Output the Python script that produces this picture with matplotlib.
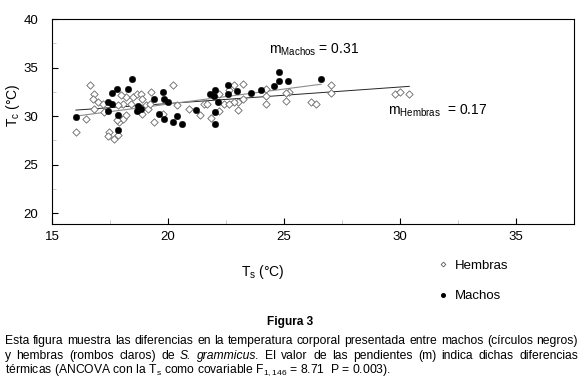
import matplotlib
matplotlib.use('Agg')
import matplotlib.pyplot as plt
from matplotlib.lines import Line2D
import numpy as np

# Arial-like text everywhere, also inside the mathtext bits.
plt.rcParams['font.family'] = ['Liberation Sans', 'DejaVu Sans']
plt.rcParams['mathtext.fontset'] = 'custom'
plt.rcParams['mathtext.rm'] = 'Liberation Sans'
plt.rcParams['mathtext.it'] = 'Liberation Sans:italic'
plt.rcParams['mathtext.bf'] = 'Liberation Sans:bold'

# Hembras (open diamonds): substrate temperature Ts and body temperature Tc.
ts_hembras = [16.65, 16.82, 16.75, 16.97, 17.2, 16.82, 16.47, 16.03, 17.25, 17.47,
              17.4, 17.66, 17.86, 17.9, 18.05, 18.19, 18.05, 17.83, 18.19, 17.97,
              18.4, 18.47, 18.66, 18.84, 18.9, 19.05, 19.15, 18.9, 19.27, 19.24,
              19.4, 19.8, 20.2, 20.4, 27.03, 27.03, 26.16, 26.38, 24.22, 25.09,
              25.23, 25.09, 24.22, 23.22, 22.86, 22.64, 23.0, 23.0, 23.22, 22.86,
              22.2, 22.2, 21.85, 21.4, 20.9, 21.56, 21.7, 22.4, 22.64, 24.22,
              29.78, 30.0, 30.4, 17.8]
tc_hembras = [33.2, 32.3, 31.8, 31.45, 31.3, 30.75, 29.7, 28.4, 30.4, 28.35,
              28.0, 27.7, 28.1, 29.4, 29.7, 30.07, 31.3, 31.1, 32.0, 32.2,
              31.3, 32.0, 32.3, 32.3, 31.8, 31.1, 30.7, 30.2, 32.5, 31.3,
              29.45, 30.2, 33.2, 31.1, 33.2, 32.4, 31.5, 31.2, 31.2, 31.6,
              32.5, 32.4, 32.8, 33.3, 33.2, 32.65, 31.5, 30.6, 31.8, 31.5,
              32.3, 30.5, 29.8, 30.1, 30.75, 31.3, 31.3, 31.3, 31.3, 32.1,
              32.3, 32.45, 32.3, 29.6]

# Machos (filled circles).
ts_machos = [16.03, 18.43, 17.6, 17.8, 18.26, 17.4, 17.6, 17.4, 17.83, 17.86,
             18.7, 18.84, 18.66, 19.38, 19.77, 19.84, 20.0, 19.6, 19.84, 20.2,
             20.4, 20.6, 21.2, 21.8, 21.99, 22.04, 22.04, 22.04, 22.14, 22.57,
             22.57, 22.96, 23.58, 24.0, 24.58, 24.8, 24.8, 25.16, 26.6]
tc_machos = [29.9, 33.8, 32.4, 32.75, 32.75, 31.5, 31.2, 30.5, 30.1, 28.6,
             31.0, 30.75, 30.5, 31.8, 32.5, 31.8, 31.5, 30.2, 29.7, 29.45,
             30.0, 29.2, 30.6, 32.3, 32.1, 32.65, 30.4, 29.2, 31.5, 33.2,
             32.3, 32.55, 32.4, 32.65, 33.1, 34.5, 33.6, 33.6, 33.8]

# Regression lines (slope m, intercept b).
m_hembras, b_hembras = 0.17, 27.9
m_machos, b_machos = 0.31, 25.04

x_ticks = [15, 20, 25, 30, 35]
y_ticks = [20, 25, 30, 35, 40]

W, H = 580.0, 380.0

fig = plt.figure(figsize=(5.8, 3.8), dpi=100, facecolor='w')

## The plot axes, placed in pixels of the reference.
ax = fig.add_axes([52 / W, 1 - 224 / H, 522 / W, 205 / H])

# Points.
ax.scatter(ts_hembras, tc_hembras, marker='D', s=14, facecolor='w',
           edgecolor='0.4', linewidth=0.6, zorder=3)
ax.scatter(ts_machos, tc_machos, marker='o', s=22, facecolor='k',
           edgecolor='k', linewidth=0.3, zorder=4)

# Trend lines over each group's range.
xh = np.array([min(ts_hembras), max(ts_hembras)])
xm = np.array([min(ts_machos), max(ts_machos)])
ax.plot(xh, b_hembras + m_hembras * xh, color='0.15', lw=0.7, zorder=2)
ax.plot(xm, b_machos + m_machos * xm, color='0.55', lw=0.8, zorder=2)

# Axis ranges and ticks.
ax.set_xlim(15, 37.5)
ax.set_ylim(18.9, 40)
ax.set_xticks(x_ticks)
ax.set_yticks(y_ticks)
ax.set_xticks(np.arange(17.5, 37.5, 5), minor=True)
ax.set_yticks(np.arange(22.5, 40, 5), minor=True)
ax.tick_params(which='major', direction='in', length=4, width=0.8,
               labelsize=9.5, colors='k')
ax.tick_params(axis='x', which='major', pad=5)
ax.tick_params(axis='y', which='major', pad=10)
ax.tick_params(which='minor', direction='in', length=3, width=0.6, color='0.75')
for s in ax.spines.values():
    s.set_linewidth(0.8)

# Slope labels.
ax.text(24.35, 36.8, r'm$_{\mathrm{Machos}}$ = 0.31', fontsize=10,
        ha='left', va='center')
ax.text(29.5, 30.6, r'm$_{\mathrm{Hembras}}$  = 0.17', fontsize=10,
        ha='left', va='center')

# Axis labels.
fig.text(263 / W, 1 - 272 / H, r'T$_{\mathrm{s}}$ (°C)', fontsize=10,
         ha='center', va='center')
fig.text(13 / W, 1 - 105 / H, r'T$_{\mathrm{c}}$ (°C)', fontsize=10,
         ha='center', va='center', rotation=90)

# Legend below the plot, on the right.
handles = [Line2D([], [], marker='D', ms=2.4, mfc='w', mec='0.35', mew=0.6, ls='none'),
           Line2D([], [], marker='o', ms=2.6, mfc='k', mec='k', ls='none')]
fig.legend(handles, ['Hembras', 'Machos'], loc='center left',
           bbox_to_anchor=(431 / W, 1 - 281 / H), frameon=False, fontsize=9.5,
           borderpad=0, handlelength=0.8, handletextpad=0.5, labelspacing=1.35)

# Caption.
fig.text(290 / W, 1 - 322 / H, 'Figura 3', fontsize=8.6, fontweight='bold',
         ha='center', va='center')

renderer = fig.canvas.get_renderer()


def justify_line(words, y, x0, x1):
    """Spread words so the line fills x0..x1 (pixels)."""
    texts = [fig.text(0, 1 - y / H, w, fontsize=8.7, style=st, va='center')
             for w, st in words]
    widths = [t.get_window_extent(renderer).width for t in texts]
    gap = (x1 - x0 - sum(widths)) / (len(texts) - 1)
    x = x0
    for t, w in zip(texts, widths):
        t.set_x(x / W)
        x += w + gap


line1 = ('Esta figura muestra las diferencias en la temperatura corporal '
         'presentada entre machos (círculos negros)').split()
justify_line([(w, 'normal') for w in line1], 341, 5, 578)

line2 = ('y hembras (rombos claros) de S. grammicus. El valor de las '
         'pendientes (m) indica dichas diferencias').split()
justify_line([(w, 'italic' if w in ('S.', 'grammicus.') else 'normal')
              for w in line2], 356, 5, 578)

fig.text(5 / W, 1 - 370 / H,
         r'térmicas (ANCOVA con la T$_{\mathrm{s}}$ como covariable '
         r'F$_{\mathrm{1,146}}$ = 8.71  P = 0.003).',
         fontsize=8.7, ha='left', va='center')

fig.savefig('out.png', dpi=100, facecolor='w')
